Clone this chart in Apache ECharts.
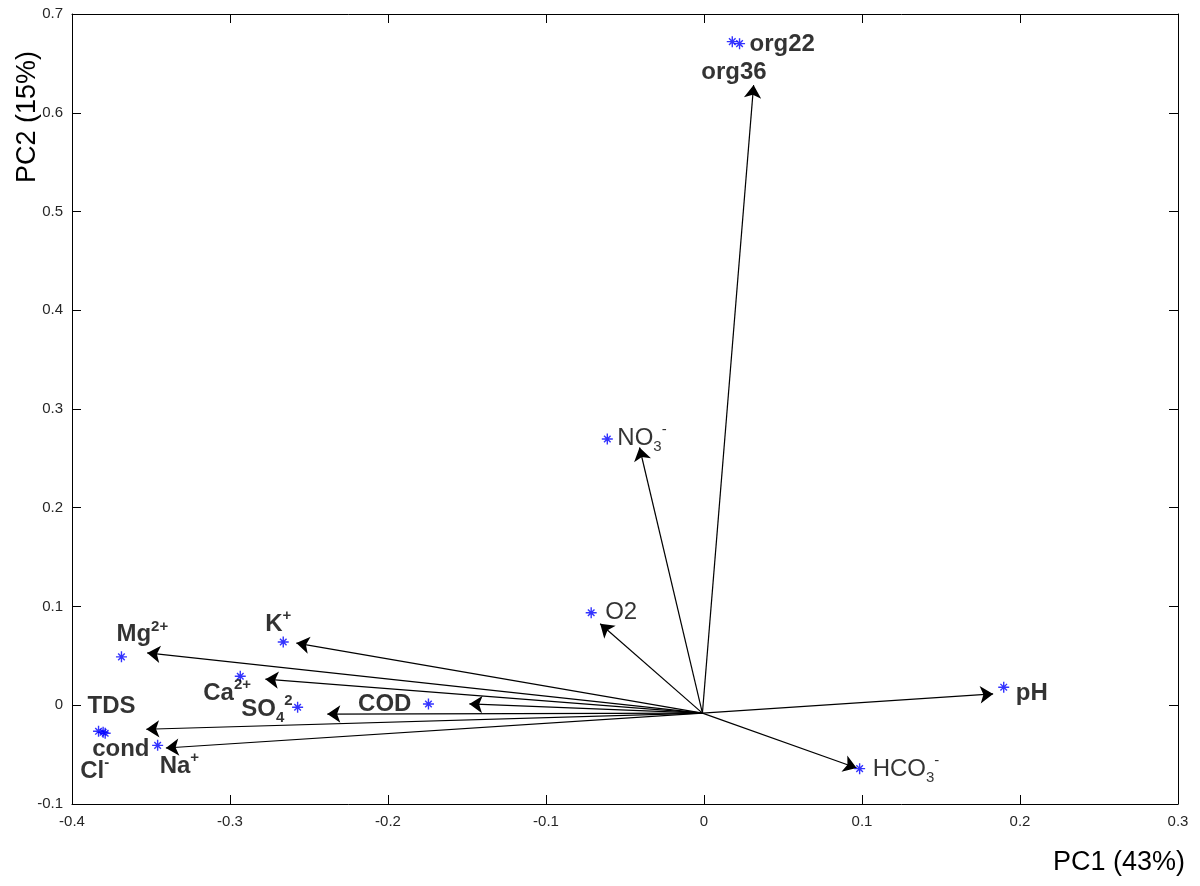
<!DOCTYPE html>
<html>
<head>
<meta charset="utf-8">
<script src="https://cdn.jsdelivr.net/npm/echarts@6/dist/echarts.min.js"></script>
<style>
html,body{margin:0;padding:0;background:#fff;}
#chart{width:1200px;height:886px;}
</style>
</head>
<body>
<div id="chart"></div>
<script>
// ---- data ----
const xTicks = [-0.4, -0.3, -0.2, -0.1, 0, 0.1, 0.2, 0.3];
const yTicks = [-0.1, 0, 0.1, 0.2, 0.3, 0.4, 0.5, 0.6, 0.7];

// star points (variable loadings)
const pointNames = ['org22', 'org36', 'NO3', 'O2', 'pH', 'HCO3', 'K', 'Mg', 'Ca', 'SO4', 'COD', 'TDS', 'cond', 'Cl', 'Na'];
const pointX = [0.0225, 0.0179, -0.0612, -0.0714, 0.1897, 0.0985, -0.2663, -0.3687, -0.2935, -0.2572, -0.1744, -0.3832, -0.3790, -0.3803, -0.3458];
const pointY = [0.670, 0.672, 0.2696, 0.0937, 0.0183, -0.0642, 0.064, 0.049, 0.0294, -0.002, 0.0013, -0.0264, -0.0284, -0.0274, -0.0406];

// arrows from the origin
const arrowOrigin = [-0.001, -0.008];
const arrowNames = ['org', 'NO3', 'O2', 'pH', 'HCO3', 'K', 'Mg', 'Ca', 'SO4', 'COD', 'TDS', 'Na'];
const arrowX = [0.0314, -0.0408, -0.0657, 0.183, 0.0966, -0.2580, -0.3524, -0.2776, -0.2384, -0.1485, -0.3530, -0.3406];
const arrowY = [0.628, 0.261, 0.0825, 0.0115, -0.0636, 0.063, 0.053, 0.0264, -0.0089, 0.0013, -0.0243, -0.0433];

// label texts (rich text markup)
const labelTexts = {
  org22: 'org22', org36: 'org36', NO3: 'NO{sub|3}{sup|-}', O2: 'O2', pH: 'pH',
  HCO3: 'HCO{sub|3}{sup|-}', K: 'K{sup|+}', Mg: 'Mg{sup|2+}', Ca: 'Ca{sup|2+}',
  SO4: 'SO{sub|4}{sup|2}', COD: 'COD', TDS: 'TDS', cond: 'cond', Cl: 'Cl{sup|-}', Na: 'Na{sup|+}'
};

// ---- label placement (style) ----
const labelPlace = {
  org22: {dx: 10, dy: 1, align: 'left', bold: true},
  org36: {dx: -31, dy: 31, align: 'left', bold: true},
  NO3: {dx: 10, dy: -1, align: 'left', bold: false},
  O2: {dx: 14, dy: 0, align: 'left', bold: false},
  pH: {dx: 12, dy: 6, align: 'left', bold: true},
  HCO3: {dx: 13, dy: 1, align: 'left', bold: false},
  K: {dx: -18, dy: -18, align: 'left', bold: true},
  Mg: {dx: -5, dy: -22, align: 'left', bold: true},
  Ca: {dx: -37, dy: 17, align: 'left', bold: true},
  SO4: {dx: -5, dy: 2, align: 'right', bold: true},
  COD: {dx: -17, dy: 0, align: 'right', bold: true},
  TDS: {dx: -11, dy: -25, align: 'left', bold: true},
  cond: {dx: -13, dy: 16, align: 'left', bold: true},
  Cl: {dx: -23, dy: 39, align: 'left', bold: true},
  Na: {dx: 2, dy: 21, align: 'left', bold: true}
};

const FONT = '"Liberation Sans", Arial, sans-serif';

function richFor(bold) {
  const w = bold ? 'bold' : 'normal';
  return {
    sup: {fontSize: 15, fontWeight: w, fontFamily: FONT, color: '#000', verticalAlign: 'top', lineHeight: 32},
    sub: {fontSize: 15, fontWeight: w, fontFamily: FONT, color: '#000', verticalAlign: 'bottom', lineHeight: 32}
  };
}

const pointData = pointNames.map((n, i) => {
  const p = labelPlace[n];
  return {
    name: n,
    value: [pointX[i], pointY[i]],
    label: {
      show: true,
      formatter: labelTexts[n],
      position: 'inside',
      offset: [p.dx, p.dy],
      align: p.align,
      verticalAlign: 'middle',
      fontSize: 24,
      lineHeight: 32,
      fontWeight: p.bold ? 'bold' : 'normal',
      fontFamily: FONT,
      color: '#000',
      rich: richFor(p.bold)
    }
  };
});

const arrowData = arrowNames.map((n, i) => ({
  name: n,
  coords: [arrowOrigin, [arrowX[i], arrowY[i]]]
}));

const axisCommon = {
  type: 'value',
  axisLine: {show: true, onZero: false, lineStyle: {color: '#000', width: 1}},
  axisTick: {show: true, inside: true, length: 9, lineStyle: {color: '#000', width: 1}},
  splitLine: {show: false}
};

const chart = echarts.init(document.getElementById('chart'), null, {renderer: 'canvas'});
chart.setOption({
  animation: false,
  backgroundColor: '#fff',
  grid: {left: 72, right: 22, top: 14, bottom: 82, containLabel: false},
  xAxis: [
    Object.assign({}, axisCommon, {
      min: xTicks[0], max: xTicks[xTicks.length - 1], interval: 0.1, position: 'bottom',
      axisLabel: {show: true, margin: 10, fontSize: 15, color: '#262626', fontFamily: FONT,
        formatter: v => String(Math.round(v * 10) / 10)}
    }),
    Object.assign({}, axisCommon, {
      min: xTicks[0], max: xTicks[xTicks.length - 1], interval: 0.1, position: 'top',
      axisLabel: {show: false}
    })
  ],
  yAxis: [
    Object.assign({}, axisCommon, {
      min: yTicks[0], max: yTicks[yTicks.length - 1], interval: 0.1, position: 'left',
      axisLabel: {show: true, margin: 9, fontSize: 15, color: '#262626', fontFamily: FONT,
        formatter: v => String(Math.round(v * 10) / 10)}
    }),
    Object.assign({}, axisCommon, {
      min: yTicks[0], max: yTicks[yTicks.length - 1], interval: 0.1, position: 'right',
      axisLabel: {show: false}
    })
  ],
  graphic: [
    {type: 'text', left: 1053, top: 849,
      style: {text: 'PC1 (43%)', fontSize: 27, fontFamily: FONT, fill: '#000'}},
    {type: 'text', x: 28, y: 117, rotation: Math.PI / 2,
      style: {text: 'PC2 (15%)', fontSize: 27, fontFamily: FONT, fill: '#000', align: 'center', verticalAlign: 'middle'}}
  ],
  series: [
    {
      type: 'lines',
      coordinateSystem: 'cartesian2d',
      xAxisIndex: 0, yAxisIndex: 0,
      symbol: ['none', 'arrow'],
      symbolSize: 13,
      lineStyle: {color: '#000', width: 1.2, opacity: 1},
      itemStyle: {color: '#000'},
      data: arrowData,
      z: 2
    },
    {
      type: 'scatter',
      xAxisIndex: 0, yAxisIndex: 0,
      symbol: 'path://M5,0 L5,10 M0,5 L10,5 M2,2 L8,8 M8,2 L2,8',
      symbolSize: 11,
      itemStyle: {color: 'rgba(0,0,0,0)', borderColor: '#0000ff', borderWidth: 1.4},
      data: pointData,
      z: 3
    }
  ]
});
</script>
</body>
</html>
